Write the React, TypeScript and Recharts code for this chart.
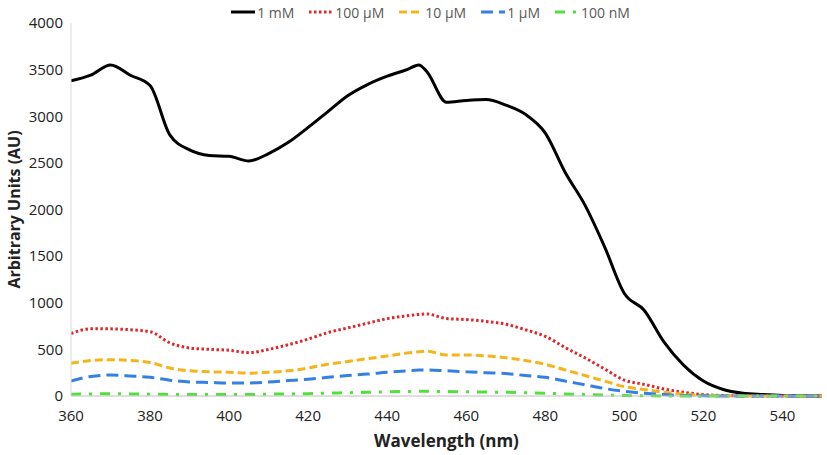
import React from 'react';
import { LineChart, Line, XAxis, YAxis, Legend, Label } from 'recharts';

const wavelengths = [
  360, 365, 370, 375, 380, 385, 390, 395, 400, 405, 410, 415, 420, 425, 430, 435, 440, 445, 448, 450,
  455, 460, 465, 470, 475, 480, 485, 490, 495, 500, 505, 510, 515, 520, 525, 530, 535, 540, 545, 550,
];
const oneMM = [
  3380, 3440, 3550, 3440, 3330, 2800, 2640, 2580, 2570, 2520, 2600, 2720, 2880, 3050, 3220, 3340, 3430,
  3500, 3550, 3480, 3150, 3170, 3180, 3120, 3020, 2820, 2400, 2050, 1600, 1100, 920, 580, 330, 160, 70,
  30, 15, 5, 2, 0,
];
const hundredUM = [
  670, 720, 720, 710, 690, 570, 515, 500, 490, 465, 500, 550, 610, 680, 730, 780, 830, 860, 875, 880,
  830, 820, 800, 770, 710, 640, 520, 410, 290, 170, 125, 75, 40, 15, 5, 2, 1, 0, 0, 0,
];
const tenUM = [
  350, 380, 390, 380, 360, 300, 270, 260, 255, 245, 255, 270, 300, 340, 370, 400, 430, 460, 475, 480,
  440, 440, 430, 410, 380, 340, 280, 220, 160, 100, 70, 40, 20, 8, 3, 1, 0, 0, 0, 0,
];
const oneUM = [
  160, 210, 225, 215, 200, 170, 150, 145, 140, 140, 150, 165, 180, 200, 220, 235, 255, 270, 278, 280,
  270, 260, 250, 240, 220, 200, 160, 120, 80, 50, 30, 15, 5, 2, 0, 0, 0, 0, 0, 0,
];
const hundredNM = [
  20, 22, 25, 22, 20, 17, 15, 15, 15, 15, 20, 22, 25, 30, 35, 40, 45, 48, 50, 50,
  48, 45, 42, 40, 35, 30, 22, 15, 10, 5, 3, 1, 0, 0, 0, 0, 0, 0, 0, 0,
];
const xTicks = [360, 380, 400, 420, 440, 460, 480, 500, 520, 540];
const yTicks = [0, 500, 1000, 1500, 2000, 2500, 3000, 3500, 4000];

const series = [
  { key: 'oneMM', name: '1 mM', color: '#000000', dash: undefined },
  { key: 'hundredUM', name: '100 µM', color: '#e0262a', dash: '2.5 2.5' },
  { key: 'tenUM', name: '10 µM', color: '#f5b41c', dash: '8 4' },
  { key: 'oneUM', name: '1 µM', color: '#3580e2', dash: '12 6' },
  { key: 'hundredNM', name: '100 nM', color: '#52e03a', dash: '10 8 3 8' },
];

const data = wavelengths.map((w, i) => ({
  w,
  oneMM: oneMM[i],
  hundredUM: hundredUM[i],
  tenUM: tenUM[i],
  oneUM: oneUM[i],
  hundredNM: hundredNM[i],
}));

const font = '"Open Sans", sans-serif';

function LegendContent() {
  return (
    <div style={{ display: 'flex', justifyContent: 'center', height: 20, alignItems: 'center', fontFamily: font, fontSize: 14, color: '#595959', paddingLeft: 54 }}>
      {series.map((s) => (
        <span key={s.key} style={{ display: 'inline-flex', alignItems: 'center', marginRight: 15 }}>
          <svg width={24} height={6} style={{ marginRight: 2 }}>
            <line x1={0} y1={3} x2={24} y2={3} stroke={s.color} strokeWidth={3} strokeDasharray={s.dash} />
          </svg>
          {s.name}
        </span>
      ))}
    </div>
  );
}

export default function App() {
  return (
    <div style={{ position: 'absolute', left: 0, top: 0, background: '#fff' }}>
      <LineChart width={827} height={455} data={data} margin={{ top: 3, right: 5, bottom: 0, left: 0 }}>
        <Legend verticalAlign='top' align='center' content={<LegendContent />} wrapperStyle={{ top: 2 }} />
        <XAxis
          dataKey='w'
          type='number'
          domain={[360, 550]}
          ticks={xTicks}
          allowDataOverflow
          height={59}
          tickLine={false}
          tickMargin={8}
          axisLine={{ stroke: '#bfbfbf' }}
          tick={{ fill: '#222', fontSize: 15, fontFamily: font }}
        >
          <Label
            content={({ viewBox }: any) => (
              <text x={viewBox.x + viewBox.width / 2} y={viewBox.y + 51} textAnchor='middle' fontFamily={font} fontWeight='bold' fontSize={17} fill='#222'>
                Wavelength (nm)
              </text>
            )}
          />
        </XAxis>
        <YAxis
          domain={[0, 4000]}
          ticks={yTicks}
          width={71}
          tickLine={false}
          axisLine={{ stroke: '#d9d9d9' }}
          tick={{ fill: '#222', fontSize: 15, fontFamily: font }}
        >
          <Label
            content={({ viewBox }: any) => (
              <text
                x={20}
                y={viewBox.y + viewBox.height / 2}
                transform={`rotate(-90, 20, ${viewBox.y + viewBox.height / 2})`}
                textAnchor='middle'
                fontFamily={font}
                fontWeight='bold'
                fontSize={16}
                fill='#222'
              >
                Arbitrary Units (AU)
              </text>
            )}
          />
        </YAxis>
        {series.map((s) => (
          <Line
            key={s.key}
            type='monotone'
            dataKey={s.key}
            name={s.name}
            stroke={s.color}
            strokeWidth={3}
            strokeDasharray={s.dash}
            dot={false}
            isAnimationActive={false}
          />
        ))}
      </LineChart>
    </div>
  );
}
